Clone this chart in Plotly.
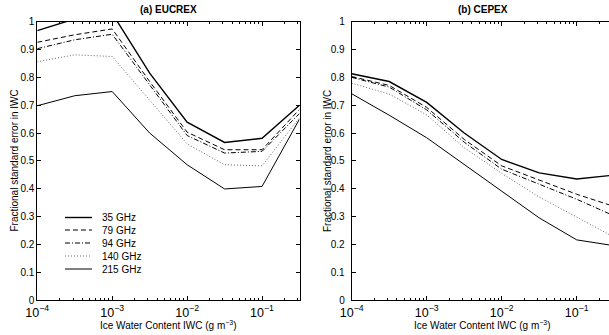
import plotly.graph_objects as go

W, H = 609, 335

iwc = [1e-4, 3.162e-4, 1e-3, 3.162e-3, 1e-2, 3.162e-2, 1e-1, 3.162e-1]
freqs = ["35 GHz", "79 GHz", "94 GHz", "140 GHz", "215 GHz"]

eucrex_35 = [0.968, 1.01, 1.03, 0.815, 0.639, 0.566, 0.581, 0.700]
eucrex_79 = [0.926, 0.953, 0.974, 0.785, 0.603, 0.540, 0.540, 0.685]
eucrex_94 = [0.903, 0.935, 0.955, 0.771, 0.591, 0.528, 0.534, 0.670]
eucrex_140 = [0.856, 0.881, 0.875, 0.720, 0.561, 0.486, 0.482, 0.655]
eucrex_215 = [0.698, 0.734, 0.749, 0.600, 0.486, 0.399, 0.408, 0.650]

cepex_35 = [0.813, 0.785, 0.710, 0.600, 0.505, 0.457, 0.435, 0.449]
cepex_79 = [0.803, 0.771, 0.692, 0.577, 0.482, 0.432, 0.380, 0.336]
cepex_94 = [0.800, 0.765, 0.683, 0.567, 0.470, 0.417, 0.362, 0.302]
cepex_140 = [0.779, 0.740, 0.665, 0.547, 0.455, 0.370, 0.298, 0.225]
cepex_215 = [0.741, 0.664, 0.583, 0.486, 0.390, 0.295, 0.216, 0.195]

eucrex = [eucrex_35, eucrex_79, eucrex_94, eucrex_140, eucrex_215]
cepex = [cepex_35, cepex_79, cepex_94, cepex_140, cepex_215]

styles = [
    dict(color="black", width=1.4, dash="solid"),
    dict(color="black", width=1.0, dash="5px,3px"),
    dict(color="black", width=1.0, dash="5px,2px,1px,2px"),
    dict(color="#666666", width=1.0, dash="1px,2px"),
    dict(color="black", width=1.0, dash="solid"),
]

FONT = "Liberation Sans, Arial, Helvetica, sans-serif"

fig = go.Figure()
for name, ys, st in zip(freqs, eucrex, styles):
    fig.add_trace(go.Scatter(x=iwc, y=ys, mode="lines", name=name, line=st,
                             xaxis="x", yaxis="y", showlegend=False))
for name, ys, st in zip(freqs, cepex, styles):
    fig.add_trace(go.Scatter(x=iwc, y=ys, mode="lines", name=name, line=st,
                             xaxis="x2", yaxis="y2", showlegend=False))

def px_x(p):
    return p / W

def px_y(p):
    return 1 - p / H

ydom = [px_y(300), px_y(21.7)]

xcommon = dict(type="log", dtick=1, exponentformat="power", showgrid=False,
               zeroline=False, showline=True, linecolor="black", linewidth=1,
               mirror="ticks", ticks="inside", ticklen=4, tickcolor="black",
               minor=dict(ticks="inside", ticklen=2, dtick="D1", tickcolor="black", showgrid=False),
               tickfont=dict(family=FONT, size=10, color="black"), automargin=False,
               ticklabelstandoff=1)
ycommon = dict(range=[0, 1], dtick=0.1, showgrid=False, zeroline=False,
               showline=True, linecolor="black", linewidth=1,
               ticks="inside", ticklen=4, tickcolor="black",
               tickfont=dict(family=FONT, size=10, color="black"), automargin=False)

fig.update_layout(
    width=W, height=H,
    margin=dict(l=0, r=0, t=0, b=0),
    paper_bgcolor="white", plot_bgcolor="white",
    showlegend=False,
    xaxis=dict(xcommon, domain=[px_x(37.3), px_x(299.5)], range=[-4, -0.5], anchor="y"),
    yaxis=dict(ycommon, domain=ydom, mirror="ticks", anchor="x"),
    xaxis2=dict(xcommon, domain=[px_x(351.7), 1.0], range=[-4, -0.57], anchor="y2"),
    yaxis2=dict(ycommon, domain=ydom, mirror=False, anchor="x2", ticklabelstandoff=4),
)

def note(text, x, y, size=10, xanchor="center", angle=0):
    return dict(text=text, x=px_x(x), y=px_y(y), xref="paper", yref="paper",
                xanchor=xanchor, yanchor="middle", showarrow=False, textangle=angle,
                font=dict(family=FONT, size=size, color="black"))

ann = []
ann.append(note("<b>(a) EUCREX</b>", 168.5, 10))
ann.append(note("<b>(b) CEPEX</b>", 482.6, 10))
for cx in (168.5, 482.6):
    ann.append(note("Ice Water Content IWC (g m<sup>\u22123</sup>)", cx, 324.5))
for cx in (13.5, 327):
    ann.append(note("Fractional standard error in IWC", cx, 161, size=10, angle=-90))

shapes = []
rows = [217.5, 230, 243, 256, 269]
for name, st, ry in zip(freqs, styles, rows):
    shapes.append(dict(type="line", xref="paper", yref="paper",
                       x0=px_x(65), x1=px_x(92), y0=px_y(ry), y1=px_y(ry), line=st))
    ann.append(note(name, 100, ry, xanchor="left"))

fig.update_layout(annotations=ann, shapes=shapes)
fig.write_html("out.html")
